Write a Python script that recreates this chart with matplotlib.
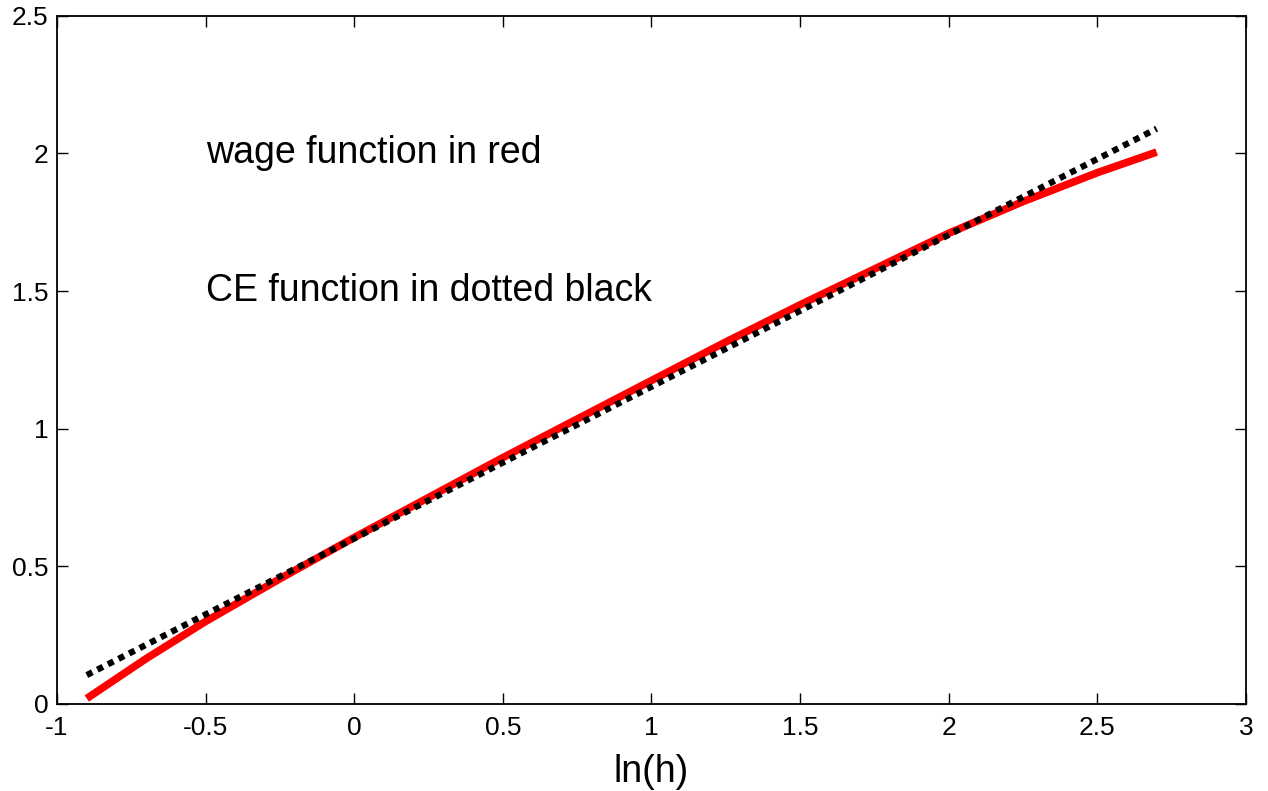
import matplotlib.pyplot as plt

plt.rcParams['font.family'] = ['Liberation Sans', 'DejaVu Sans']

# wage function (red)
ln_h = [-0.9, -0.7, -0.5, -0.25, 0.0, 0.25, 0.5, 0.75, 1.0, 1.25, 1.5, 1.75, 2.0, 2.25, 2.5, 2.7]
wage = [0.02, 0.165, 0.30, 0.455, 0.605, 0.75, 0.895, 1.035, 1.175, 1.315, 1.45, 1.58, 1.71, 1.825, 1.93, 2.005]

# CE function (dotted black), a straight line
ce_x = [-0.9, 2.7]
ce_y = [0.105, 2.09]

fig = plt.figure(figsize=(12.68, 7.91), dpi=100)
ax = fig.add_axes([0.045, 0.110, 0.9375, 0.870])

ax.plot(ln_h, wage, color='red', linewidth=5.5, solid_capstyle='butt')
ax.plot(ce_x, ce_y, color='black', linewidth=4.5, linestyle=(0, (1.0, 0.9)))

ax.text(-0.5, 2.0, 'wage function in red', fontsize=27, va='center', ha='left')
ax.text(-0.5, 1.5, 'CE function in dotted black', fontsize=27, va='center', ha='left')

ax.set_xlim(-1, 3)
ax.set_ylim(0, 2.5)
ax.set_xticks([-1, -0.5, 0, 0.5, 1, 1.5, 2, 2.5, 3])
ax.set_xticklabels(['-1', '-0.5', '0', '0.5', '1', '1.5', '2', '2.5', '3'])
ax.set_yticks([0, 0.5, 1, 1.5, 2, 2.5])
ax.set_yticklabels(['0', '0.5', '1', '1.5', '2', '2.5'])
ax.tick_params(direction='in', length=8, width=1, labelsize=19, top=True, right=True, pad=6)
ax.tick_params(axis='x', pad=9)
for s in ax.spines.values():
    s.set_linewidth(1.3)

ax.set_xlabel('ln(h)', fontsize=27, labelpad=10)

fig.savefig('out.png', dpi=100)
